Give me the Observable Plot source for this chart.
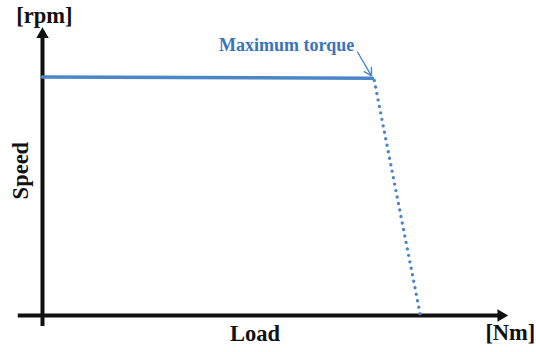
<!DOCTYPE html>
<html>
<head>
<meta charset="utf-8">
<script src="https://cdn.jsdelivr.net/npm/d3@7"></script>
<script src="https://cdn.jsdelivr.net/npm/@observablehq/plot@0.6"></script>
<style>
  html, body { margin: 0; padding: 0; background: #fff; }
  #chart svg { display: block; }
</style>
</head>
<body>
<div id="chart"></div>
<script>
// --- data (load in % of axis, speed in % of axis) ---
const constLoad = [0, 70.8];          // constant-speed region
const constSpeed = [82.8, 82.4];
const dropLoad = [71.2, 81.1];        // speed drop after maximum torque
const dropSpeed = [81.6, 0];
const pointerLoad = [67.6, 70.6];     // "Maximum torque" pointer
const pointerSpeed = [91.5, 83.2];
const annotation = ["Maximum torque"];
const annotationPos = [52.4, 93.8];
const xAxisExtent = [-5.2, 100];
const yAxisExtent = [-3.8, 100];
const axisLabels = ["[rpm]", "Speed", "Load", "[Nm]"];
const axisLabelX = [0.4, -4.7, 45.6, 100.4];
const axisLabelY = [104.2, 50.3, -6.5, -6.0];
const axisLabelRotate = [0, -90, 0, 0];

const blue = "#4a86c8";
const serif = "'Liberation Serif', 'DejaVu Serif', serif";

const constData = constLoad.map((x, i) => ({x, y: constSpeed[i]}));
const dropData = dropLoad.map((x, i) => ({x, y: dropSpeed[i]}));
const labelData = axisLabels.map((t, i) => ({t, x: axisLabelX[i], y: axisLabelY[i], r: axisLabelRotate[i]}));

const chart = Plot.plot({
  width: 536,
  height: 352,
  marginLeft: 42,
  marginRight: 28,
  marginTop: 27,
  marginBottom: 37,
  x: {domain: [0, 100], axis: null},
  y: {domain: [0, 100], axis: null},
  style: {fontFamily: serif, background: "white"},
  marks: [
    // axes
    Plot.ruleY([0], {x1: xAxisExtent[0], x2: xAxisExtent[1] - 1.5, stroke: "#111", strokeWidth: 4}),
    Plot.ruleX([0], {y1: yAxisExtent[0], y2: yAxisExtent[1] - 3, stroke: "#111", strokeWidth: 4}),
    Plot.dot([{x: xAxisExtent[1] - 1.6, y: 0}], {x: "x", y: "y", symbol: "triangle", r: 4.6, fill: "#111", rotate: 90}),
    Plot.dot([{x: 0, y: yAxisExtent[1] - 2.4}], {x: "x", y: "y", symbol: "triangle", r: 4.6, fill: "#111"}),
    // curves
    Plot.line(constData, {x: "x", y: "y", stroke: blue, strokeWidth: 3.5}),
    Plot.line(dropData, {x: "x", y: "y", stroke: blue, strokeWidth: 3.4, strokeDasharray: "0 6.6", strokeLinecap: "round"}),
    Plot.arrow([{}], {
      x1: () => pointerLoad[0], y1: () => pointerSpeed[0],
      x2: () => pointerLoad[1], y2: () => pointerSpeed[1],
      stroke: blue, strokeWidth: 1.4, headLength: 9
    }),
    // texts
    Plot.text(annotation, {x: annotationPos[0], y: annotationPos[1], text: d => d, fill: "#3a74bb", fontWeight: "bold", fontSize: 18}),
    Plot.text(labelData, {x: "x", y: "y", text: "t", rotate: "r", fill: "#111", fontWeight: "bold", fontSize: 22.5})
  ]
});
document.getElementById("chart").append(chart);
</script>
</body>
</html>
